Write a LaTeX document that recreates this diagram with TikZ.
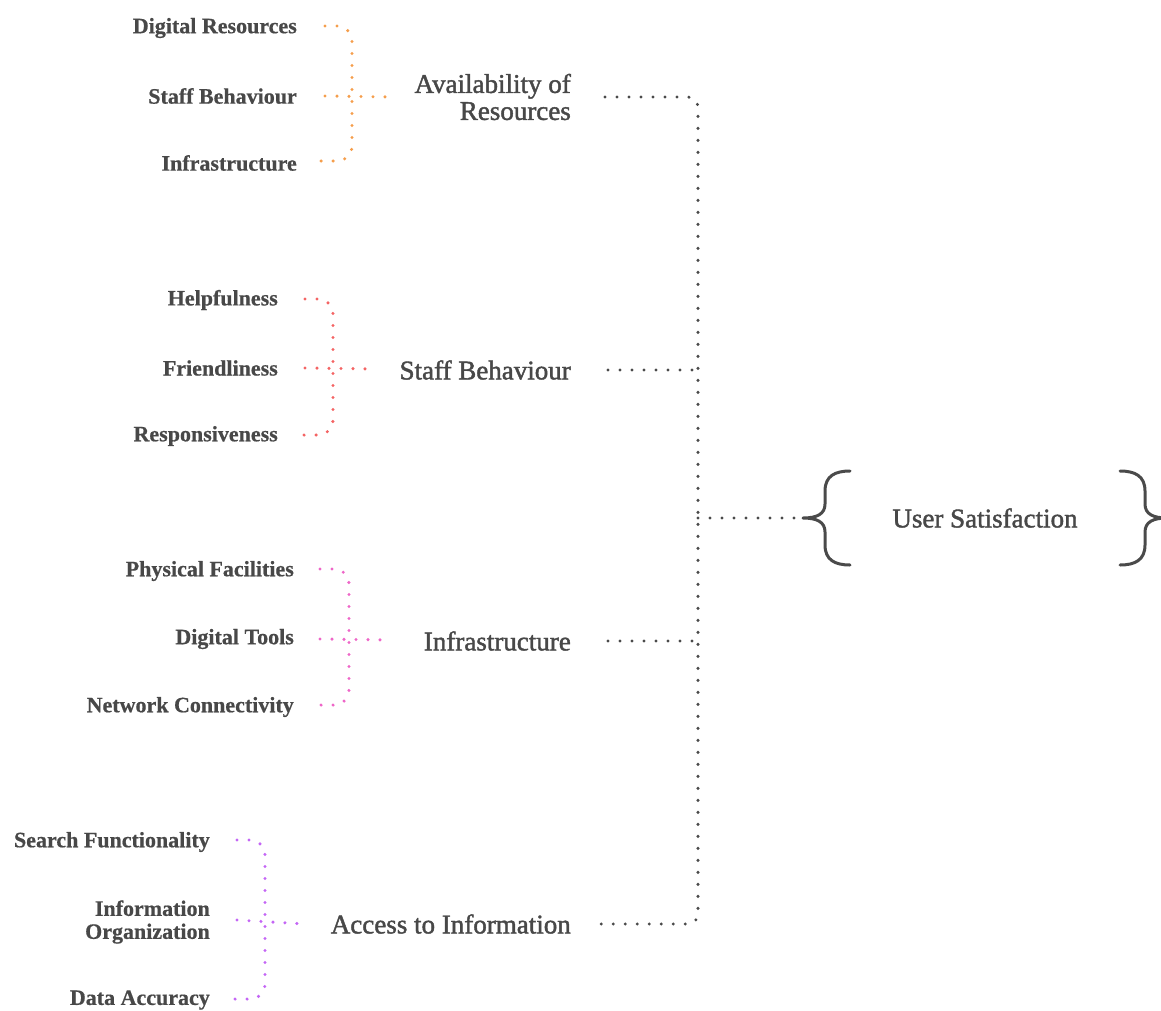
\documentclass[tikz,border=0pt]{standalone}
\usepackage{fontspec}
\setmainfont{Liberation Serif}
\newfontfamily\parentfont[FakeBold=1.6]{Liberation Serif}
\newfontfamily\childfont[FakeBold=0.6]{Liberation Serif Bold}
\usetikzlibrary{calc}
\definecolor{txt}{HTML}{484848}
\definecolor{gline}{HTML}{4A4A4A}
\definecolor{corange}{HTML}{F59E4C}
\definecolor{cred}{HTML}{F46464}
\definecolor{cpink}{HTML}{EE66C8}
\definecolor{cviolet}{HTML}{C466F5}
\tikzset{
  child/.style={anchor=east, inner sep=0pt, text=txt, align=right,
    font=\fontsize{22}{23}\childfont},
  parent/.style={anchor=east, inner sep=0pt, text=txt, align=right,
    font=\fontsize{27}{27}\parentfont},
  usnode/.style={inner sep=0pt, text=txt, font=\fontsize{27}{27}\parentfont},
  dots/.style={line width=3.4pt, line cap=round, dash pattern=on 0pt off 12pt},
  bracketline/.style={dots, rounded corners=15pt},
  trunk/.style={dots, draw=gline, rounded corners=10pt},
  bracestyle/.style={draw=gline, line width=3pt, line cap=round, line join=round}
}
\begin{document}
\begin{tikzpicture}[x=1pt, y=-1pt]
\useasboundingbox (0,0) rectangle (1161,1010);

% ---------- group 1
\node[child] (c11) at (297,28) {Digital Resources};
\node[child] (c12) at (297,96) {Staff Behaviour};
\node[child] (c13) at (297,163) {Infrastructure};
\node[parent] (p1) at (571,97) {Availability of\\Resources};
\coordinate (b1) at (352,97);
\coordinate (m1) at (392,97);
\draw[bracketline, draw=corange] ([xshift=28pt,yshift=2pt]c11.east) -| (b1) |- ([xshift=15pt,yshift=2pt]c13.east);
\draw[dots, draw=corange] ([xshift=28pt]c12.east) -- (m1);

% ---------- group 2
\node[child] (c21) at (278,300) {Helpfulness};
\node[child] (c22) at (278,368) {Friendliness};
\node[child] (c23) at (278,436) {Responsiveness};
\node[parent] (p2) at (571,370) {Staff Behaviour};
\coordinate (b2) at (333,369);
\coordinate (m2) at (375,369);
\draw[bracketline, draw=cred] ([xshift=27pt,yshift=1pt]c21.east) -| (b2) |- ([xshift=15pt,yshift=1pt]c23.east);
\draw[dots, draw=cred] ([xshift=27pt]c22.east) -- (m2);

% ---------- group 3
\node[child] (c31) at (294,571) {Physical Facilities};
\node[child] (c32) at (294,639) {Digital Tools};
\node[child] (c33) at (294,707) {Network Connectivity};
\node[parent] (p3) at (571,641) {Infrastructure};
\coordinate (b3) at (349,640);
\coordinate (m3) at (390,640);
\draw[bracketline, draw=cpink] ([xshift=26pt,yshift=2pt]c31.east) -| (b3) |- ([xshift=16pt,yshift=2pt]c33.east);
\draw[dots, draw=cpink] ([xshift=26pt]c32.east) -- (m3);

% ---------- group 4
\node[child] (c41) at (210,842) {Search Functionality};
\node[child] (c42) at (210,922) {Information\\Organization};
\node[child] (c43) at (210,1000) {Data Accuracy};
\node[parent] (p4) at (571,924) {Access to Information};
\coordinate (b4) at (265,924);
\coordinate (m4) at (305,924);
\draw[bracketline, draw=cviolet] ([xshift=27pt,yshift=2pt]c41.east) -| (b4) |- ([xshift=17pt,yshift=1pt]c43.east);
\draw[dots, draw=cviolet] ([xshift=27pt,yshift=2pt]c42.east) -- (m4);

% ---------- user satisfaction
\node[usnode] (us) at (985,518) {User Satisfaction};
\draw[bracestyle, shift={(us.center)}]
  (-135,-47) .. controls (-150,-47) and (-160,-42) .. (-160,-27) -- (-160,-14)
  .. controls (-160,-4) and (-168,0) .. (-182,0)
  .. controls (-168,0) and (-160,4) .. (-160,14) -- (-160,27)
  .. controls (-160,42) and (-150,47) .. (-135,47);
\draw[bracestyle, shift={(us.center)}]
  (135,-47) .. controls (150,-47) and (160,-42) .. (160,-27) -- (160,-14)
  .. controls (160,-4) and (168,0) .. (182,0)
  .. controls (168,0) and (160,4) .. (160,14) -- (160,27)
  .. controls (160,42) and (150,47) .. (135,47);
\coordinate (ustip) at ([xshift=-182pt]us.center);

% ---------- trunk
\coordinate (tm) at (698,518);
\draw[trunk] ([xshift=34pt]p1.east) -| (tm) |- ([xshift=25pt]p4.east);
\draw[trunk] ([xshift=37pt]p2.east) -- (p2.east -| tm);
\draw[trunk] ([xshift=37pt]p3.east) -- (p3.east -| tm);
\draw[trunk] (tm) -- (ustip);
\end{tikzpicture}
\end{document}
